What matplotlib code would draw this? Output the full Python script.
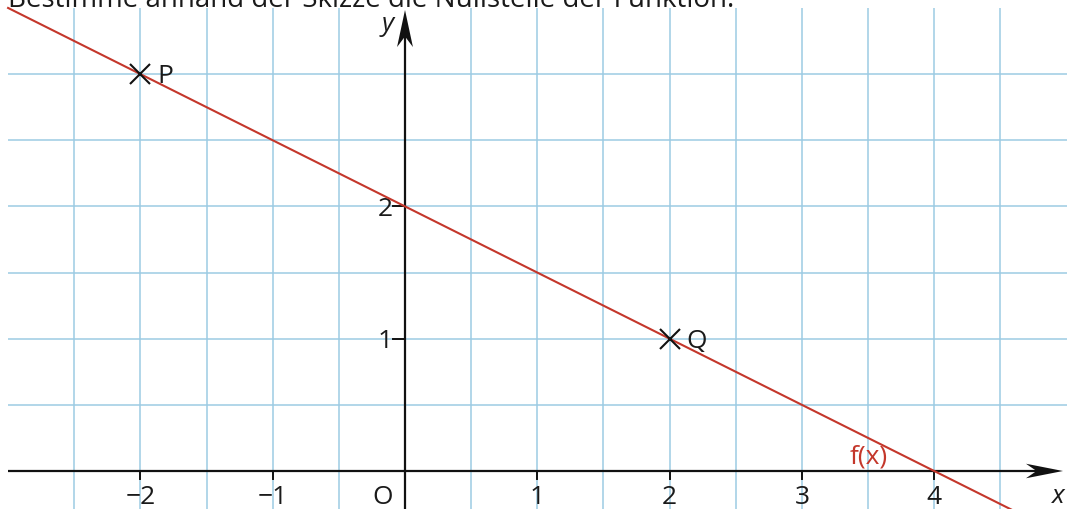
import matplotlib
matplotlib.use("Agg")
import matplotlib.pyplot as plt
from matplotlib.patches import Polygon
import numpy as np

plt.rcParams['font.family'] = ['Open Sans', 'DejaVu Sans']

# ---- data ----
title = "Bestimme anhand der Skizze die Nullstelle der Funktion."
x_tick_values = [-2, -1, 1, 2, 3, 4]
x_tick_labels = ["\u22122", "\u22121", "1", "2", "3", "4"]
y_tick_values = [1, 2]
y_tick_labels = ["1", "2"]
point_names = ["P", "Q"]
point_x = [-2, 2]
point_y = [3, 1]
line_x = [-3, 5]
line_y = [3.5, -0.5]
grid_x = [-2.5, -2, -1.5, -1, -0.5, 0.5, 1, 1.5, 2, 2.5, 3, 3.5, 4, 4.5]
grid_y = [0.5, 1, 1.5, 2, 2.5, 3]

# ---- layout ----
W, H = 1067, 509
fig = plt.figure(figsize=(W / 100, H / 100), dpi=100)
ax = fig.add_axes([0, 0, 1, 1])
ax.set_axis_off()
s = 132.3
x0px, y0px = 405, 471
ax.set_xlim(-x0px / s, (W - x0px) / s)
ax.set_ylim(-(H - y0px) / s, y0px / s)
xmin, xmax = ax.get_xlim()
ymin, ymax = ax.get_ylim()

grid_col = '#9ccbe3'
top = 3.5
for gx in grid_x:
    ax.plot([gx, gx], [ymin, top], color=grid_col, lw=1.1, zorder=1, solid_capstyle='butt')
for gy in grid_y:
    ax.plot([-3.0, xmax], [gy, gy], color=grid_col, lw=1.1, zorder=1, solid_capstyle='butt')

# axes
ink = '#111111'
x_tip = (1063 - x0px) / s
y_tip = (y0px - 10) / s
ax.plot([-3.0, x_tip - 0.2], [0, 0], color=ink, lw=1.6, zorder=3, solid_capstyle='butt')
ax.plot([0, 0], [ymin, y_tip - 0.2], color=ink, lw=1.6, zorder=3, solid_capstyle='butt')
L, hw, notch = 0.28, 0.055, 0.2
ax.add_patch(Polygon([[x_tip, 0], [x_tip - L, hw], [x_tip - notch, 0], [x_tip - L, -hw]],
                     closed=True, color=ink, zorder=4, lw=0))
ax.add_patch(Polygon([[0, y_tip], [hw + 0.005, y_tip - L], [0, y_tip - notch], [-hw - 0.005, y_tip - L]],
                     closed=True, color=ink, zorder=4, lw=0))

# ticks
tl = 8 / s
for xv, lab in zip(x_tick_values, x_tick_labels):
    ax.plot([xv, xv], [0, -tl], color=ink, lw=1.4, zorder=3)
    ax.text(xv, -0.25, lab, ha='center', va='baseline', fontsize=19, color='#1a1a1a')
for yv, lab in zip(y_tick_values, y_tick_labels):
    ax.plot([-12 / s, 0], [yv, yv], color=ink, lw=1.4, zorder=3)
    ax.text(-0.095, yv - 0.072, lab, ha='right', va='baseline', fontsize=19, color='#1a1a1a')
ax.text(-22 / s, -0.25, "O", ha='center', va='baseline', fontsize=19, color='#1a1a1a')
ax.text(-0.128, 3.326, "y", ha='center', va='baseline', fontsize=19, style='italic', color='#1a1a1a')
ax.text(4.94, -0.242, "x", ha='center', va='baseline', fontsize=19, style='italic', color='#1a1a1a')

# function line
red = '#c4372b'
ax.plot(line_x, line_y, color=red, lw=1.5, zorder=5)
ax.text(3.507, 0.06, "f(x)", ha='center', va='baseline', fontsize=19, color=red, zorder=6)

# points
ax.plot(point_x, point_y, linestyle='none', marker='x', markersize=14, markeredgewidth=1.5,
        color=ink, zorder=7)
offs = [(0.125, -0.067), (0.124, -0.07)]
for n, px, py, (dx, dy) in zip(point_names, point_x, point_y, offs):
    ax.text(px + dx, py + dy, n, ha='left', va='baseline', fontsize=19, color='#1a1a1a', zorder=7)

# title (partially cut at top, as in the reference)
ax.text(-3.0, (y0px - 7.5) / s, title, ha='left', va='baseline', fontsize=20, color='#1a1a1a')

fig.savefig("out.png", dpi=100)
